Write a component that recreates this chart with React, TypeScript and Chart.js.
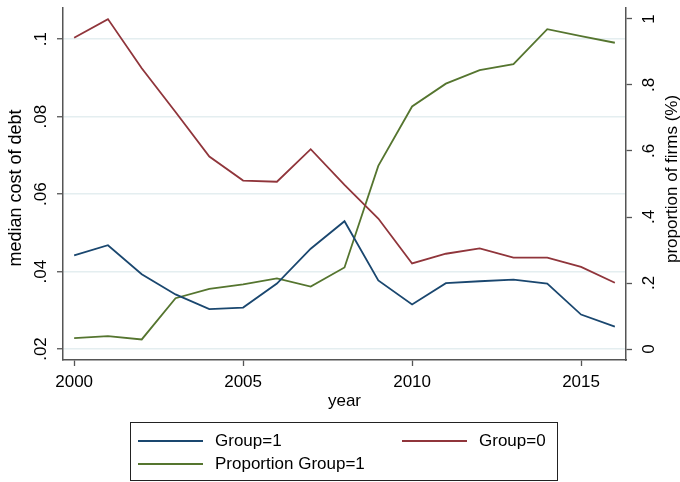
import React, { useEffect, useRef } from "react";
import { Chart, registerables } from "chart.js";

Chart.register(...registerables);

const years = [2000, 2001, 2002, 2003, 2004, 2005, 2006, 2007, 2008, 2009, 2010, 2011, 2012, 2013, 2014, 2015, 2016];
const group1 = [0.0442, 0.0468, 0.0393, 0.0341, 0.0303, 0.0307, 0.0369, 0.0459, 0.053, 0.0377, 0.0315, 0.037, 0.0375, 0.0379, 0.0369, 0.0289, 0.0258];
const group0 = [0.1004, 0.1052, 0.0925, 0.0812, 0.0697, 0.0635, 0.0632, 0.0716, 0.0624, 0.0537, 0.0421, 0.0446, 0.046, 0.0436, 0.0436, 0.0412, 0.0371];
const proportion = [0.033, 0.039, 0.029, 0.154, 0.182, 0.196, 0.214, 0.189, 0.247, 0.555, 0.735, 0.804, 0.845, 0.863, 0.969, 0.948, 0.928];

const xTicks = [2000, 2005, 2010, 2015];
const leftTicks = [0.02, 0.04, 0.06, 0.08, 0.1];
const rightTicks = [0, 0.2, 0.4, 0.6, 0.8, 1];

const labelGroup1 = "Group=1";
const labelGroup0 = "Group=0";
const labelProportion = "Proportion Group=1";
const xTitle = "year";
const leftTitle = "median cost of debt";
const rightTitle = "proportion of firms (%)";

const BLUE = "#1a476f";
const RED = "#90353b";
const GREEN = "#55752f";
const AXIS = "#555555";
const GRID = "#e4eef0";
const FONT = "'Liberation Sans', Arial, Helvetica, sans-serif";

const fmt = (v: number) => {
  const n = +Number(v).toFixed(4);
  if (n === 0) return "0";
  return String(n).replace(/^0\./, ".").replace(/^-0\./, "-.");
};

const sideTitlesPlugin = {
  id: "sideTitles",
  afterDraw(chart: any) {
    const ctx = chart.ctx;
    const area = chart.chartArea;
    const drawV = (text: string, x: number, y: number, size: number) => {
      ctx.save();
      ctx.font = `${size}px ${FONT}`;
      ctx.fillStyle = "#000";
      ctx.textAlign = "center";
      ctx.textBaseline = "middle";
      ctx.translate(x, y);
      ctx.rotate(-Math.PI / 2);
      ctx.fillText(text, 0, 0);
      ctx.restore();
    };
    const mid = (area.top + area.bottom) / 2;
    drawV(leftTitle, 16, mid + 4, 18);
    drawV(rightTitle, 672, mid - 5, 17);
  },
};

const legendPlugin = {
  id: "boxLegend",
  afterDraw(chart: any) {
    const ctx = chart.ctx;
    const ds = chart.data.datasets;
    ctx.save();
    ctx.strokeStyle = "#222";
    ctx.lineWidth = 1;
    ctx.strokeRect(130.5, 422.5, 427, 58);
    const items = [
      { d: ds[0], x: 138, y: 441 },
      { d: ds[1], x: 402, y: 441 },
      { d: ds[2], x: 138, y: 464 },
    ];
    ctx.font = `17px ${FONT}`;
    ctx.textBaseline = "middle";
    ctx.textAlign = "left";
    for (const it of items) {
      ctx.strokeStyle = it.d.borderColor;
      ctx.lineWidth = 2;
      ctx.beginPath();
      ctx.moveTo(it.x, it.y);
      ctx.lineTo(it.x + 65, it.y);
      ctx.stroke();
      ctx.fillStyle = "#000";
      ctx.fillText(it.d.label, it.x + 77, it.y);
    }
    ctx.restore();
  },
};

export default function App() {
  const ref = useRef<HTMLCanvasElement | null>(null);

  useEffect(() => {
    if (!ref.current) return;
    Chart.defaults.font.family = FONT;
    Chart.defaults.font.size = 17;
    Chart.defaults.color = "#000";
    const mk = (arr: number[]) => years.map((x, i) => ({ x, y: arr[i] }));
    const chart = new Chart(ref.current, {
      type: "line",
      data: {
        datasets: [
          { label: labelGroup1, data: mk(group1), borderColor: BLUE, backgroundColor: BLUE, yAxisID: "y", borderWidth: 1.8, pointRadius: 0, tension: 0 },
          { label: labelGroup0, data: mk(group0), borderColor: RED, backgroundColor: RED, yAxisID: "y", borderWidth: 1.8, pointRadius: 0, tension: 0 },
          { label: labelProportion, data: mk(proportion), borderColor: GREEN, backgroundColor: GREEN, yAxisID: "y1", borderWidth: 1.8, pointRadius: 0, tension: 0 },
        ],
      },
      options: {
        responsive: false,
        animation: false,
        devicePixelRatio: 1,
        layout: { padding: { left: 0, right: 0, top: 8, bottom: 68 } },
        plugins: { legend: { display: false }, tooltip: { enabled: false }, title: { display: false } },
        scales: {
          x: {
            type: "linear",
            min: 1999.67,
            max: 2016.33,
            afterBuildTicks: (s: any) => {
              s.ticks = xTicks.map((v) => ({ value: v }));
            },
            afterFit: (s: any) => {
              s.height = 54;
              s.paddingLeft = 0;
              s.paddingRight = 0;
            },
            ticks: { callback: (v: any) => String(v), color: "#000", font: { size: 17 }, padding: 6, autoSkip: false, maxRotation: 0, minRotation: 0 },
            grid: { drawOnChartArea: false, drawTicks: true, tickLength: 6, tickColor: AXIS, tickWidth: 1.3 },
            border: { display: true, color: AXIS, width: 1.5 },
            title: { display: true, text: xTitle, color: "#000", font: { size: 17 }, padding: { top: 0, bottom: 2 } },
          },
          y: {
            type: "linear",
            position: "left",
            min: 0.01716,
            max: 0.10807,
            afterBuildTicks: (s: any) => {
              s.ticks = leftTicks.map((v) => ({ value: v }));
            },
            afterFit: (s: any) => {
              s.width = 63;
              s.paddingTop = 0;
              s.paddingBottom = 0;
            },
            ticks: { callback: (v: any) => fmt(v), color: "#000", font: { size: 17 }, padding: 4, autoSkip: false, minRotation: 90, maxRotation: 90, crossAlign: "center" },
            grid: { drawOnChartArea: true, color: GRID, lineWidth: 1.5, drawTicks: true, tickLength: 6, tickColor: AXIS, tickWidth: 1.3 },
            border: { display: true, color: AXIS, width: 1.5 },
            title: { display: false },
          },
          y1: {
            type: "linear",
            position: "right",
            min: -0.0333,
            max: 1.0333,
            afterBuildTicks: (s: any) => {
              s.ticks = rightTicks.map((v) => ({ value: v }));
            },
            afterFit: (s: any) => {
              s.width = 54;
              s.paddingTop = 0;
              s.paddingBottom = 0;
            },
            ticks: { callback: (v: any) => fmt(v), color: "#000", font: { size: 17 }, padding: 10, autoSkip: false, minRotation: 90, maxRotation: 90, crossAlign: "center" },
            grid: { drawOnChartArea: false, drawTicks: true, tickLength: 6, tickColor: AXIS, tickWidth: 1.3 },
            border: { display: true, color: AXIS, width: 1.5 },
            title: { display: false },
          },
        },
      },
      plugins: [sideTitlesPlugin, legendPlugin],
    } as any);
    return () => chart.destroy();
  }, []);

  return (
    <canvas
      ref={ref}
      width={680}
      height={482}
      style={{ position: "absolute", left: 0, top: 0, width: 680, height: 482, background: "#fff" }}
    />
  );
}
